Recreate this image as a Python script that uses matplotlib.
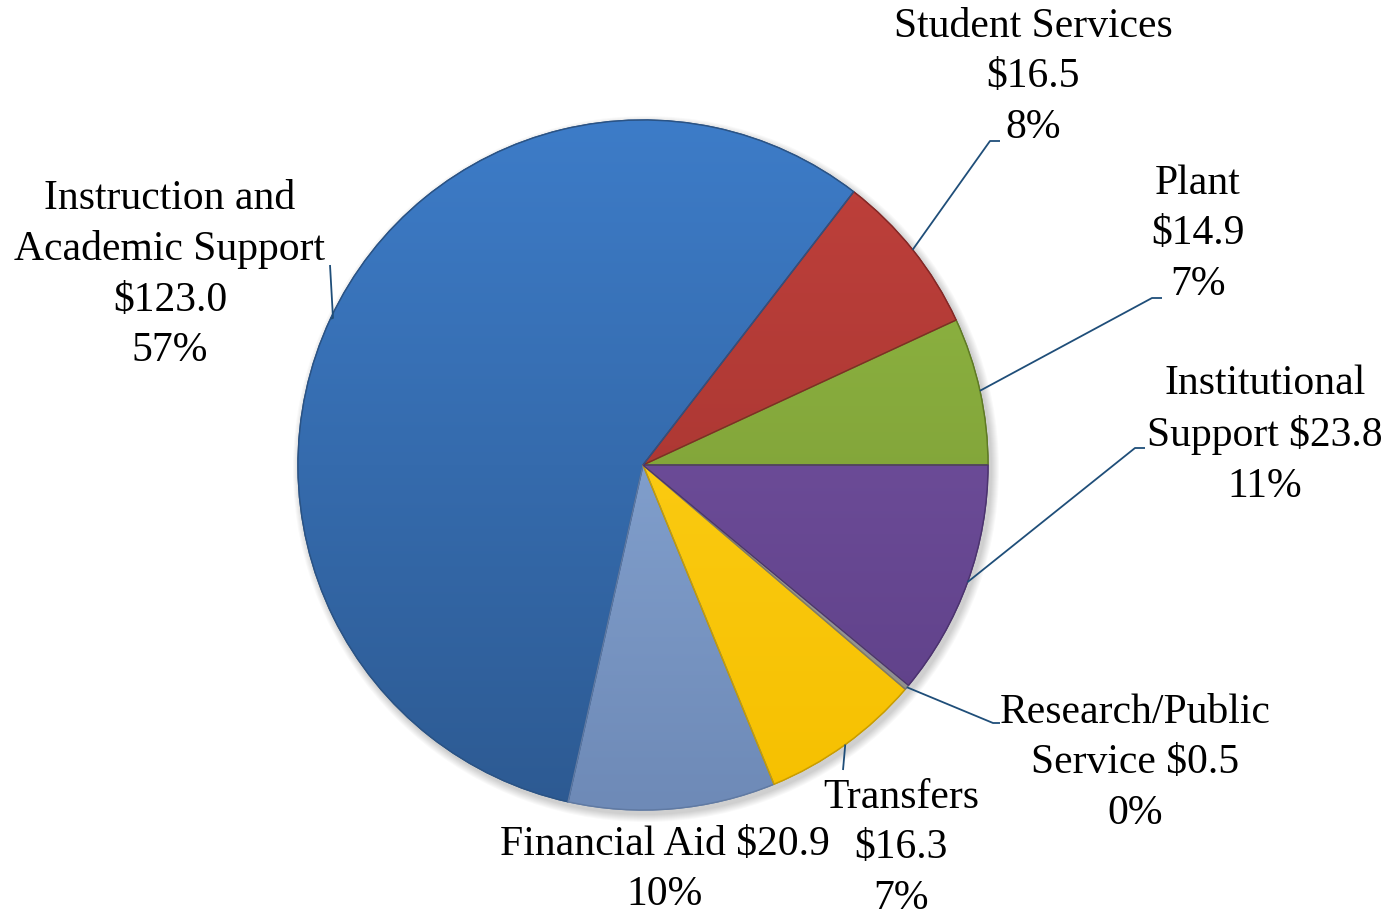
import numpy as np
import matplotlib
matplotlib.use("Agg")
import matplotlib.pyplot as plt
from matplotlib.colors import LinearSegmentedColormap
from matplotlib.patches import Wedge, Circle

# ---- data (counter-clockwise from 3 o'clock) ----
categories = ["Plant", "Student Services", "Instruction and\nAcademic Support",
              "Financial Aid", "Transfers", "Research/Public\nService",
              "Institutional\nSupport"]
values = [14.9, 16.5, 123.0, 20.9, 16.3, 0.5, 23.8]
percents = ["7%", "8%", "57%", "10%", "7%", "0%", "11%"]

# ---- styles ----
top_colors = ["#93bb45", "#c0413c", "#3d7cc8", "#92b2e0", "#ffd422", "#b0b0b0", "#7a58a8"]
bot_colors = ["#749230", "#9c302c", "#2d5a92", "#6e8ab7", "#f6c000", "#8a8a8a", "#5c3e85"]
edge_colors = ["#5f7a25", "#842826", "#2a5385", "#607aa3", "#c99d00", "#777777", "#4c336f"]

W, H = 1400, 915
fig = plt.figure(figsize=(W / 100, H / 100), dpi=100)
ax = fig.add_axes([0, 0, 1, 1])

cx, cy, R = 643, H - 465, 345

# soft shadow
for k in range(8):
    ax.add_patch(Circle((cx + 3, cy - 4), R + 8 - k, color="#000000",
                        alpha=0.025, lw=0, zorder=0))

wedges, _ = ax.pie(values, startangle=0, counterclock=True, center=(cx, cy),
                   radius=R, frame=True, wedgeprops=dict(linewidth=1.0))

yy = np.linspace(0, 1, 256).reshape(-1, 1)
for w, tc, bc, ec in zip(wedges, top_colors, bot_colors, edge_colors):
    w.set_facecolor(bc)
    w.set_edgecolor(ec)
    w.set_zorder(2)
    cmap = LinearSegmentedColormap.from_list("g", [bc, tc])
    im = ax.imshow(yy, cmap=cmap, origin="lower", aspect="auto",
                   extent=(cx - R, cx + R, cy - R, cy + R), zorder=2.5,
                   interpolation="bilinear")
    im.set_clip_path(w)
    ax.add_patch(Wedge((cx, cy), R, w.theta1, w.theta2,
                       fill=False, edgecolor=ec, lw=1.0, zorder=3))

# ---- labels (layout) ----
label_pos = [(1198, 234), (1033, 77), (170, 275), (665, 870), (901, 848),
             (1135, 763), (1265, 435)]
texts = []
for cat, v, p in zip(categories, values, percents):
    if cat == "Institutional\nSupport":
        texts.append(f"Institutional\nSupport ${v:.1f}\n{p}")
    elif cat.startswith("Research"):
        texts.append(f"Research/Public\nService ${v:.1f}\n{p}")
    elif cat == "Financial Aid":
        texts.append(f"{cat} ${v:.1f}\n{p}")
    else:
        texts.append(f"{cat}\n${v:.1f}\n{p}")

font = dict(family="Liberation Serif", size=30, color="#000000")
for t, (lx, ly) in zip(texts, label_pos):
    ax.text(lx, H - ly, t, ha="center", va="center", linespacing=1.40, **font)

# ---- leader lines: from wedge mid-angle on edge to label anchor ----
leader_ends = {0: [(1152, 298), (1162, 298)],
               1: [(990, 141), (1000, 141)],
               2: [(333, 318), (330, 265)],
               4: [(843, 770)],
               5: [(993, 723), (1000, 723)],
               6: [(1135, 448), (1145, 448)]}
lc = "#1f4e79"
for i, pts in leader_ends.items():
    w = wedges[i]
    mid = np.deg2rad((w.theta1 + w.theta2) / 2)
    sx, sy = cx + R * np.cos(mid), cy + R * np.sin(mid)
    xs = [sx] + [p[0] for p in pts]
    ys = [sy] + [H - p[1] for p in pts]
    ax.plot(xs, ys, color=lc, lw=1.3, zorder=4, solid_capstyle="butt")

ax.set_xlim(0, W)
ax.set_ylim(0, H)
ax.set_aspect("auto")
ax.axis("off")
fig.savefig("out.png", dpi=100, facecolor="white")
